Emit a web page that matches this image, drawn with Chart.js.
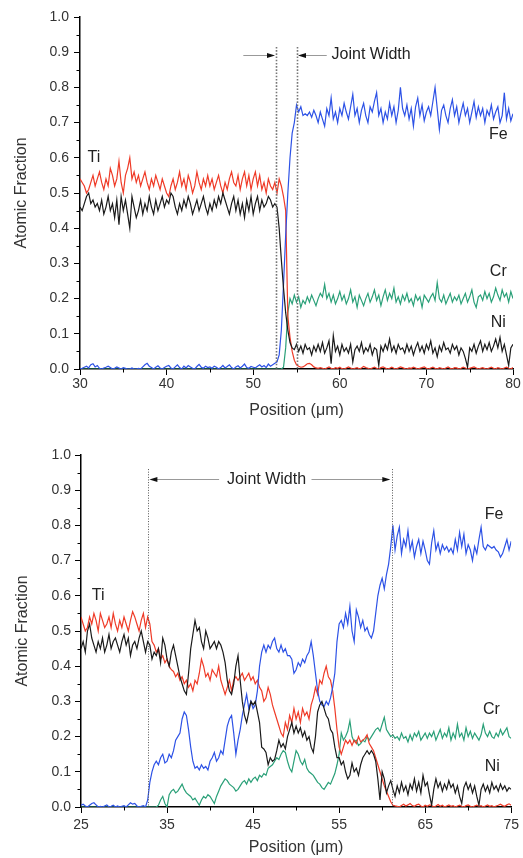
<!DOCTYPE html>
<html>
<head>
<meta charset="utf-8">
<title>Perfil de composição</title>
<script src="https://cdn.jsdelivr.net/npm/chart.js@4.4.1/dist/chart.umd.min.js"></script>
<style>
	html, body { margin: 0; padding: 0; background: #fff; }
	canvas { position: absolute; left: 0; }
	#graficoTopo { top: 0; }
	#graficoBase { top: 420px; }
</style>
</head>
<body>
<canvas id="graficoTopo" width="523" height="420"></canvas>
<canvas id="graficoBase" width="523" height="438"></canvas>
<script>
// ---- dados: gráfico de cima (30 a 80 µm, passo 0,25) ----
var inicioTopo = 30, passoTopo = 0.25, pontosTopo = 201;

var tiTopo = [
	.54,.53,.52,.50,.51,.53,.55,.52,.54,.56,.53,.51,.54,.52,.57,.55,.52,.54,.59,.53,.50,
	.55,.57,.60,.54,.56,.53,.55,.52,.54,.56,.53,.51,.54,.52,.55,.53,.51,.54,.52,.50,
	.49,.52,.54,.51,.53,.56,.52,.54,.51,.55,.53,.50,.52,.56,.53,.51,.54,.52,.55,.52,
	.54,.51,.53,.55,.52,.50,.53,.51,.54,.56,.53,.52,.55,.51,.54,.56,.52,.55,.51,.54,
	.56,.52,.55,.51,.53,.50,.54,.52,.51,.53,.50,.54,
	.52,.49,.45,.15,.09,.05,.025,.012,.008,.005,.006,.01,.015,.016,.012,.006,.003,.002,
	.004,.002,0,.003,.006,.002,0,.004,.002,.005,
	.001,0,.003,.006,.003,0,.002,.004,0,.003,
	.007,.004,.002,0,.003,.005,.002,0,.004,.006,
	.003,0,.002,.005,.002,0,.003,.006,.004,.001,
	0,.003,.002,.005,.003,0,.002,.004,.006,.002,
	0,.003,.005,.002,0,.004,.002,0,.003,.006,
	.002,0,.004,.003,0,.002,.005,.003,0,.002,
	.004,.006,.003,0,.002,.004,.001,0,.003,.005,
	.002,0,.004,.002,0,.003,.005,.002,0,.004
];

var niTopo = [
	.46,.45,.47,.49,.50,.47,.48,.46,.47,.45,.48,.44,.46,.49,.45,.47,.43,.48,.41,.49,.45,
	.48,.44,.40,.49,.46,.43,.45,.48,.44,.47,.45,.49,.46,.44,.48,.45,.47,.49,.46,.48,
	.47,.50,.49,.46,.44,.47,.45,.48,.46,.49,.47,.44,.46,.48,.45,.47,.49,.46,.44,.47,
	.45,.48,.46,.49,.47,.50,.48,.46,.44,.47,.49,.45,.48,.44,.47,.43,.48,.45,.49,.44,
	.47,.49,.45,.48,.46,.47,.49,.48,.46,.47,.46,.40,
	.31,.23,.16,.11,.075,.06,.055,.07,.05,.065,.045,.07,.055,.06,.04,.065,.05,.07,
	.05,.075,.045,.06,.08,.015,.095,.05,.065,.04,
	.07,.05,.06,.045,.07,.02,.055,.065,.05,.075,
	.045,.06,.05,.07,.04,.06,.055,.01,.065,.05,
	.07,.055,.085,.05,.065,.045,.07,.055,.06,.045,
	.07,.05,.065,.04,.06,.075,.05,.065,.045,.07,
	.055,.08,.045,.06,.035,.065,.05,.075,.055,.06,
	.045,.07,.055,.065,.04,.06,.05,.03,.005,.06,
	.05,.07,.045,.065,.08,.05,.07,.055,.075,.05,
	.065,.085,.06,.09,.05,.07,.04,.01,.06,.07
];

var feTopo = [
	0,.002,.005,.008,.003,.012,.015,.006,.01,.002,0,.003,.005,.008,.004,0,.002,.006,.003,0,.004,
	.002,0,0,.003,0,0,.002,0,.006,.012,.016,.008,.004,0,.005,.009,.003,0,.004,.008,
	.01,.003,0,.006,.012,.004,0,.008,.003,.01,.006,.002,0,.007,.013,.005,.002,.008,.004,.006,
	.002,.008,.005,0,.004,.01,.003,.007,.012,.004,0,.006,.009,.003,.008,.014,.004,.002,.007,.005,
	.003,.008,.012,.006,.01,.004,.014,.008,.012,.016,.02,.04,
	.11,.24,.38,.50,.60,.67,.70,.75,.73,.745,.72,.725,.72,.73,.715,.735,.72,.70,
	.73,.71,.69,.74,.72,.77,.71,.73,.70,.74,
	.72,.755,.73,.71,.745,.78,.72,.74,.70,.735,
	.755,.72,.70,.745,.73,.76,.785,.72,.74,.70,
	.73,.71,.755,.72,.745,.70,.735,.80,.74,.72,
	.75,.71,.74,.69,.745,.77,.72,.75,.705,.73,
	.745,.72,.76,.80,.74,.68,.735,.75,.72,.70,
	.74,.765,.72,.745,.70,.73,.755,.72,.74,.70,
	.73,.76,.715,.745,.72,.74,.70,.735,.72,.75,
	.71,.73,.745,.70,.72,.785,.71,.74,.705,.725
];

var crTopo = [
	0,0,0,0,0,0,0,0,0,0, 0,0,0,0,0,0,0,0,0,0, 0,0,0,0,0,0,0,0,0,0,
	0,0,0,0,0,0,0,0,0,0, 0,0,0,0,0,0,0,0,0,0, 0,0,0,0,0,0,0,0,0,0,
	0,0,0,0,0,0,0,0,0,0, 0,0,0,0,0,0,0,0,0,0, 0,0,0,0,0,0,0,0,0,0,
	0,0,0,
	0,.005,.06,.16,.20,.185,.21,.19,.205,.175,.195,.185,.205,.19,.21,.195,.18,.20,
	.215,.205,.24,.20,.215,.19,.21,.185,.20,.22,
	.195,.21,.185,.20,.225,.19,.205,.175,.21,.195,
	.18,.20,.215,.19,.205,.225,.195,.21,.18,.205,
	.225,.195,.215,.20,.23,.19,.205,.185,.21,.195,
	.215,.19,.20,.18,.21,.195,.205,.175,.21,.20,
	.19,.205,.215,.195,.245,.20,.19,.21,.185,.20,
	.215,.19,.205,.195,.21,.185,.20,.215,.19,.205,
	.225,.19,.175,.205,.21,.195,.22,.20,.215,.19,
	.205,.23,.21,.195,.225,.205,.215,.19,.22,.20
];

// ---- dados: gráfico de baixo (25 a 75 µm, passo 0,25) ----
var inicioBase = 25, passoBase = 0.25, pontosBase = 201;

var tiBase = [
	.54,.52,.50,.51,.54,.52,.55,.53,.50,.55,.53,.51,.52,.54,.51,.55,.52,.50,.53,.51,.54,.52,.50,.53,.555,.54,.52,.50,.53,.55,.51,.54,
	.52,.47,.46,.44,.45,.42,.43,.41,.42,.40,.39,.385,.37,.38,.36,.37,.35,.36,.34,.35,.33,.36,.35,.38,.42,.40,.37,.38,.36,.39,.38,.37,.40,.36,.34,.32,
	.34,.36,.33,.36,.37,.36,.37,.38,.36,.37,.38,.36,.37,.35,.36,.34,.33,.30,.31,.34,.32,.29,.27,.25,.23,.21,.20,.24,.22,.26,.24,.28,
	.25,.27,.24,.28,.26,.27,.25,.29,.31,.34,.32,.36,.35,.38,.40,.37,.36,.33,.28,.22,.17,.15,.17,.19,.18,.19,.175,.19,.18,.20,.185,.19,
	.195,.205,.18,.17,.16,.14,.12,.10,.08,.06,.045,.03,.015,.005,.003,
	.002,0,.004,.008,.003,.006,.01,.004,.002,.006,
	.008,.003,0,.005,.002,.006,.004,0,.003,.007,
	.002,.005,0,.003,.006,.002,.004,0,.003,.005,
	.002,0,.004,.006,.002,0,.003,.005,.002,.004,
	0,.003,.006,.002,.004,0,.003,.005,.008,.004,
	.002,.006,.009,.005
];

var niBase = [
	.45,.47,.44,.50,.52,.48,.46,.44,.47,.45,.48,.44,.46,.49,.45,.47,.48,.46,.44,.47,.49,.46,.48,.43,.46,.47,.45,.48,.50,.47,.44,.47,
	.46,.42,.44,.43,.45,.41,.48,.46,.42,.40,.44,.46,.43,.40,.37,.35,.33,.32,.38,.45,.49,.53,.50,.51,.47,.45,.50,.48,.45,.46,.47,.45,.47,.46,.44,.41,
	.36,.33,.32,.35,.40,.43,.36,.30,.26,.24,.27,.30,.29,.30,.27,.24,.17,.165,.155,.12,.14,.13,.135,.16,.19,.17,.18,.165,.20,.22,.24,.21,
	.23,.21,.225,.20,.215,.19,.20,.17,.155,.20,.27,.29,.30,.28,.26,.25,.22,.21,.17,.14,.14,.12,.13,.10,.08,.09,.125,.10,.11,.09,.12,.14,
	.15,.16,.15,.16,.15,.13,.08,.02,.10,.08,.04,.06,.075,.05,.03,
	.06,.04,.07,.045,.06,.035,.065,.05,.08,.045,
	.07,.04,.09,.06,.07,.035,.005,.05,.08,.055,
	.07,.045,.065,.05,.075,.055,.065,.04,.06,.03,
	.01,.055,.07,.05,.065,.04,.06,.03,.005,.05,
	.065,.045,.06,.04,.07,.05,.06,.045,.065,.05,
	.06,.045,.055,.05
];

var feBase = [
	.005,.008,.003,0,.005,.01,.012,.006,0,.002,0,.003,.006,0,.002,.005,0,.003,0,.002,.004,0,.006,.012,.008,.01,.003,0,.002,.004,0,.02,
	.07,.10,.12,.13,.12,.14,.15,.125,.13,.15,.14,.16,.19,.20,.21,.25,.27,.26,.22,.17,.13,.11,.115,.105,.12,.11,.115,.105,.13,.14,.155,.13,.14,.16,.15,.19,
	.23,.25,.26,.21,.15,.19,.22,.26,.29,.32,.28,.30,.28,.29,.33,.40,.44,.46,.44,.46,.45,.47,.48,.45,.44,.46,.44,.45,.43,.43,.42,.38,
	.39,.41,.40,.42,.41,.43,.44,.47,.43,.38,.33,.30,.29,.285,.30,.29,.31,.34,.38,.47,.52,.53,.51,.55,.52,.57,.50,.47,.56,.54,.51,.53,
	.50,.51,.49,.48,.50,.55,.60,.63,.65,.62,.66,.69,.74,.80,.73,
	.77,.795,.72,.76,.74,.785,.73,.755,.71,.74,
	.76,.72,.755,.73,.70,.69,.75,.785,.73,.75,
	.72,.745,.73,.74,.725,.735,.72,.76,.73,.78,
	.74,.775,.72,.745,.73,.70,.74,.72,.76,.795,
	.74,.73,.745,.74,.735,.74,.73,.725,.71,.72,
	.74,.76,.73,.755
];

var crBase = [
	0,0,0,0,0,0,0,0,0,0, 0,0,0,0,0,0,0,0,0,0, 0,0,0,0,0,0,0,0,0,0, 0,0,0,0,0,0,
	.005,.02,.03,.01,0,.035,.045,.05,.04,.045,.055,.065,.05,.04,.035,.03,.02,.025,.015,.005,.02,.03,.025,.035,.03,.02,.01,.03,.045,.06,.07,.08,
	.075,.065,.06,.055,.045,.05,.06,.07,.075,.065,.08,.07,.08,.085,.075,.09,.085,.095,.09,.11,.115,.12,.13,.14,.135,.15,.16,.155,.13,.11,.10,.13,
	.16,.15,.13,.12,.135,.11,.10,.095,.09,.08,.07,.065,.055,.05,.06,.07,.065,.08,.095,.12,.15,.21,.19,.20,.215,.245,.20,.185,.19,.175,.18,.19,
	.185,.20,.19,.20,.21,.22,.225,.215,.235,.255,.22,.21,.20,.205,.195,
	.20,.19,.21,.195,.20,.185,.205,.19,.21,.20,
	.215,.19,.20,.21,.195,.21,.20,.215,.19,.205,
	.22,.195,.21,.20,.225,.19,.21,.195,.235,.20,
	.21,.19,.225,.20,.215,.195,.21,.20,.19,.205,
	.235,.21,.20,.215,.20,.195,.21,.20,.22,.205,
	.215,.225,.20,.195
];

// limites da junta (µm)
var juntaTopo = [52.63, 55.02];
var juntaBase = [32.74, 61.14];

var CORES = { fe: '#2d52e6', ti: '#ef3b28', ni: '#1a1a1a', cr: '#2aa078' };
var FONTE = "'Liberation Sans', Arial, sans-serif";

function gerarPosicoes(inicio, passo, n) {
	var p = [];
	for (var i = 0; i < n; i++) p.push(inicio + i * passo);
	return p;
}

var Perfil = Perfil || {};

Perfil.marcas = {
	id: 'marcas',
	afterDatasetsDraw: function(chart, args, op) {
		var ctx = chart.ctx, xs = chart.scales.x, ys = chart.scales.y;
		ctx.save();
		ctx.strokeStyle = op.corPontilhado;
		ctx.lineWidth = op.larguraPontilhado;
		ctx.setLineDash(op.tracos);
		op.juntas.forEach(function(v) {
			var px = Math.round(xs.getPixelForValue(v)) + 0.5;
			ctx.beginPath();
			ctx.moveTo(px, ys.getPixelForValue(op.topoJunta));
			ctx.lineTo(px, ys.getPixelForValue(0));
			ctx.stroke();
		});
		ctx.setLineDash([]);
		op.setas.forEach(function(s) {
			var y = Math.round(ys.getPixelForValue(s.y)) + 0.5;
			var x0 = xs.getPixelForValue(s.de), x1 = xs.getPixelForValue(s.ate);
			var dir = x1 > x0 ? 1 : -1;
			ctx.strokeStyle = '#999';
			ctx.lineWidth = 1;
			ctx.beginPath();
			ctx.moveTo(x0, y);
			ctx.lineTo(x1 - dir * 6, y);
			ctx.stroke();
			ctx.fillStyle = '#111';
			ctx.beginPath();
			ctx.moveTo(x1, y);
			ctx.lineTo(x1 - dir * 8, y - 2.5);
			ctx.lineTo(x1 - dir * 8, y + 2.5);
			ctx.closePath();
			ctx.fill();
		});
		ctx.font = '16px ' + FONTE;
		ctx.fillStyle = '#222';
		ctx.textBaseline = 'middle';
		op.textos.forEach(function(t) {
			ctx.textAlign = t.alinhar || 'center';
			ctx.fillText(t.texto, xs.getPixelForValue(t.x), ys.getPixelForValue(t.y));
		});
		ctx.restore();
	},
	afterDraw: function(chart, args, op) {
		var ctx = chart.ctx, xs = chart.scales.x, ys = chart.scales.y, a = chart.chartArea;
		ctx.save();
		ctx.strokeStyle = '#000';
		ctx.lineWidth = 1;
		ctx.beginPath();
		for (var v = xs.min + op.passoMenorX; v < xs.max; v += op.passoMenorX * 2) {
			var px = Math.round(xs.getPixelForValue(v)) + 0.5;
			ctx.moveTo(px, a.bottom);
			ctx.lineTo(px, a.bottom + 3.5);
		}
		for (var w = 0.05; w < 1; w += 0.1) {
			var py = Math.round(ys.getPixelForValue(w)) + 0.5;
			ctx.moveTo(a.left, py);
			ctx.lineTo(a.left - 3.5, py);
		}
		ctx.stroke();
		ctx.restore();
	}
};

Perfil.Grafico = (function() {

	function Grafico(idCanvas, cfg) {
		this.ctx = document.getElementById(idCanvas).getContext('2d');
		this.cfg = cfg;
	}

	function serie(rotulo, valores, cor) {
		return {
			label: rotulo,
			data: valores,
			borderColor: cor,
			borderWidth: 1.2,
			pointRadius: 0,
			fill: false,
			tension: 0
		};
	}

	Grafico.prototype.iniciar = function() {
		var cfg = this.cfg;
		var fonteTicks = { family: FONTE, size: 14 };
		var fonteTitulo = { family: FONTE, size: 16, lineHeight: 1 };

		new Chart(this.ctx, {
			type: 'line',
			data: {
				labels: cfg.posicoes,
				datasets: [
					serie('Ni', cfg.ni, CORES.ni),
					serie('Fe', cfg.fe, CORES.fe),
					serie('Ti', cfg.ti, CORES.ti),
					serie('Cr', cfg.cr, CORES.cr)
				]
			},
			options: {
				responsive: false,
				animation: false,
				events: [],
				layout: { padding: cfg.margens },
				plugins: {
					legend: { display: false },
					tooltip: { enabled: false },
					marcas: cfg.marcas
				},
				scales: {
					x: {
						type: 'linear',
						min: cfg.xMin,
						max: cfg.xMax,
						afterFit: function(s) { s.height = cfg.alturaEixoX; },
						border: { color: '#000', width: 1.5 },
						grid: { drawOnChartArea: false, tickLength: 6, tickColor: '#000', tickWidth: 1 },
						ticks: { stepSize: 10, padding: cfg.padTickX, color: '#333', font: fonteTicks, maxRotation: 0, autoSkip: false },
						title: { display: true, text: 'Position (μm)', color: '#333', font: fonteTitulo, padding: { top: 0, bottom: cfg.padTituloX } }
					},
					y: {
						min: 0,
						max: 1,
						afterFit: function(s) { s.width = cfg.larguraEixoY; },
						border: { color: '#000', width: 1.5 },
						grid: { drawOnChartArea: false, tickLength: 6, tickColor: '#000', tickWidth: 1 },
						ticks: {
							stepSize: 0.1, padding: cfg.padTickY, color: '#333', font: fonteTicks,
							callback: function(v) { return v.toFixed(1); }
						},
						title: { display: true, text: 'Atomic Fraction', color: '#333', font: fonteTitulo, padding: { top: cfg.padTituloY, bottom: 0 } }
					}
				}
			},
			plugins: [Perfil.marcas]
		});
	};

	return Grafico;

}());

document.addEventListener('DOMContentLoaded', function() {

	var graficoTopo = new Perfil.Grafico('graficoTopo', {
		posicoes: gerarPosicoes(inicioTopo, passoTopo, pontosTopo),
		ti: tiTopo, ni: niTopo, fe: feTopo, cr: crTopo,
		xMin: 30, xMax: 80,
		margens: { left: 0, right: 10, top: 17, bottom: 0 },
		alturaEixoX: 51, larguraEixoY: 80,
		padTickX: 1, padTickY: 5, padTituloX: 1, padTituloY: 14,
		marcas: {
			passoMenorX: 5,
			juntas: juntaTopo, topoJunta: 0.915,
			corPontilhado: '#777', larguraPontilhado: 1.6, tracos: [1.6, 1.6],
			setas: [{ de: 48.86, ate: 52.52, y: 0.892 }, { de: 58.49, ate: 55.17, y: 0.892 }],
			textos: [
				{ texto: 'Joint Width', x: 59.05, y: 0.892, alinhar: 'left' },
				{ texto: 'Ti', x: 31.6, y: 0.602 },
				{ texto: 'Fe', x: 78.3, y: 0.665 },
				{ texto: 'Cr', x: 78.3, y: 0.276 },
				{ texto: 'Ni', x: 78.3, y: 0.131 }
			]
		}
	});
	graficoTopo.iniciar();

	var graficoBase = new Perfil.Grafico('graficoBase', {
		posicoes: gerarPosicoes(inicioBase, passoBase, pontosBase),
		ti: tiBase, ni: niBase, fe: feBase, cr: crBase,
		xMin: 25, xMax: 75,
		margens: { left: 0, right: 9, top: 35, bottom: 0 },
		alturaEixoX: 51, larguraEixoY: 81,
		padTickX: 4, padTickY: 4, padTituloX: 2, padTituloY: 15,
		marcas: {
			passoMenorX: 5,
			juntas: juntaBase, topoJunta: 0.96,
			corPontilhado: '#555', larguraPontilhado: 1, tracos: [1, 1.6],
			setas: [{ de: 41.05, ate: 32.95, y: 0.931 }, { de: 51.79, ate: 60.95, y: 0.931 }],
			textos: [
				{ texto: 'Joint Width', x: 46.56, y: 0.931 },
				{ texto: 'Ti', x: 27.0, y: 0.602 },
				{ texto: 'Fe', x: 73.0, y: 0.832 },
				{ texto: 'Cr', x: 72.7, y: 0.278 },
				{ texto: 'Ni', x: 72.8, y: 0.114 }
			]
		}
	});
	graficoBase.iniciar();

});
</script>
</body>
</html>
